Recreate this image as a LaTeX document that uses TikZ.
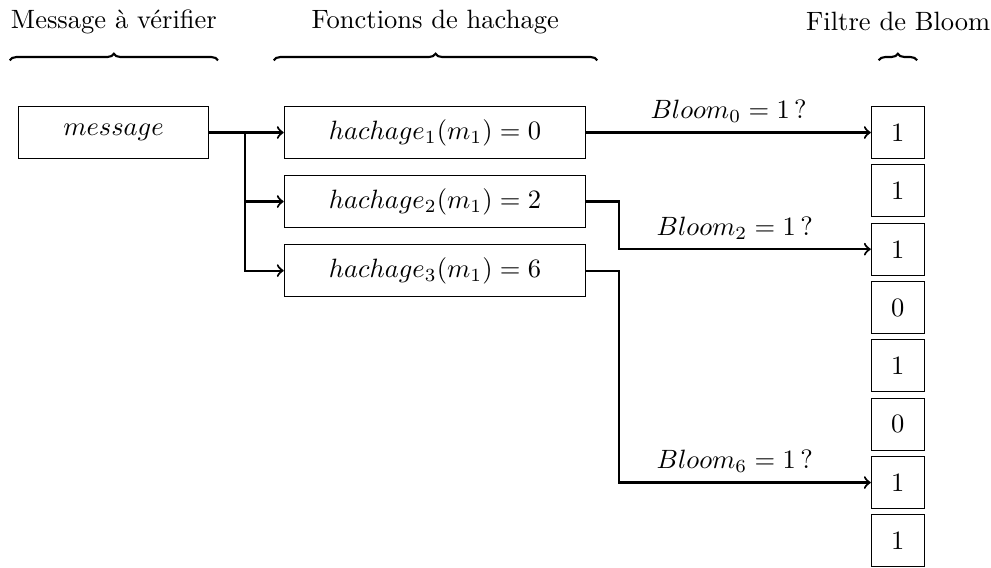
\documentclass[tikz,border=0pt]{standalone}
\usepackage{amsmath}
\usepackage{amssymb}
\usepackage{tikz}
\usetikzlibrary{decorations.pathreplacing}

\begin{document}
\begin{tikzpicture}[
    box/.style={draw,minimum height=0.68cm},
    msgbox/.style={box,minimum width=2.51cm},
    hashbox/.style={box,minimum width=4cm},
    bit/.style={draw,minimum width=0.70cm,minimum height=0.69cm},
    link/.style={->,thick},
    accolade/.style={decorate,decoration={brace},thick}]
    \useasboundingbox (0,0) rectangle (13.14,7.52);
    % headers
    \node (tmsg) at (1.51,7.23) {Message à vérifier};
    \node (thash) at (5.77,7.23) {Fonctions de hachage};
    \node (tbloom) at (11.91,7.23) {Filtre de Bloom};
    \draw [accolade] (0.13,6.72) -- (2.89,6.72);
    \draw [accolade] (3.63,6.72) -- (7.92,6.72);
    \draw [accolade] (11.65,6.72) -- (12.16,6.72);
    % message and hash functions
    \node [msgbox] (msg) at (1.505,5.763) {$message$};
    \node [hashbox] (h1) at (5.769,5.763) {$hachage_1(m_1) = 0$};
    \node [hashbox] (h2) at (5.769,4.848) {$hachage_2(m_1) = 2$};
    \node [hashbox] (h3) at (5.769,3.932) {$hachage_3(m_1) = 6$};
    % bloom filter
    \foreach \v [count=\i from 0] in {1,1,1,0,1,0,1,1} {
        \node [bit] (b\i) at (11.903,5.763-0.7735*\i) {\v};
    }
    % arrows
    \coordinate (split) at (3.249,5.763);
    \draw [link] (msg.east) -- (split) |- (h1.west);
    \draw [link] (msg.east) -- (split) |- (h2.west);
    \draw [link] (msg.east) -- (split) |- (h3.west);
    \draw [link] (h1.east) -- node [above] {$Bloom_0 = 1$\,?} (b0.west);
    \draw [link] (h2.east) -- ++(0.43,0) |- node [above,pos=0.73] {$Bloom_2 = 1$\,?} (b2.west);
    \draw [link] (h3.east) -- ++(0.43,0) |- node [above,pos=0.73] {$Bloom_6 = 1$\,?} (b6.west);
\end{tikzpicture}
\end{document}
